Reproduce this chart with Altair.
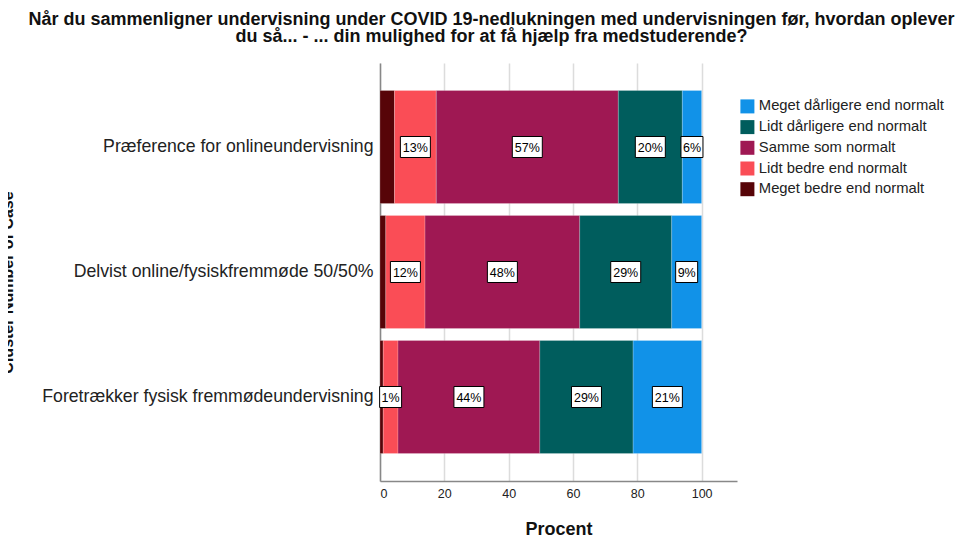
import altair as alt
import pandas as pd

categories = [
    "Præference for onlineundervisning",
    "Delvist online/fysiskfremmøde 50/50%",
    "Foretrækker fysisk fremmødeundervisning",
]
responses = [
    "Meget bedre end normalt",
    "Lidt bedre end normalt",
    "Samme som normalt",
    "Lidt dårligere end normalt",
    "Meget dårligere end normalt",
]
legend_order = [
    "Meget dårligere end normalt",
    "Lidt dårligere end normalt",
    "Samme som normalt",
    "Lidt bedre end normalt",
    "Meget bedre end normalt",
]
colors = ["#1192e8", "#005d5d", "#9f1853", "#fa4d56", "#570408"]

values = [
    [4.5, 13.0, 56.6, 19.9, 6.0],
    [1.8, 12.2, 48.1, 28.6, 9.3],
    [1.0, 4.6, 44.1, 29.0, 21.3],
]
labels = [
    ["", "13%", "57%", "20%", "6%"],
    ["", "12%", "48%", "29%", "9%"],
    ["", "1%", "44%", "29%", "21%"],
]
x_ticks = [0, 20, 40, 60, 80, 100]

rows = []
for ci, cat in enumerate(categories):
    for ri, resp in enumerate(responses):
        rows.append({"cat": cat, "resp": resp, "ord": ri,
                     "value": values[ci][ri], "label": labels[ci][ri]})
df = pd.DataFrame(rows)

FONT = "Liberation Sans"
x_scale = alt.Scale(domain=[0, 111], nice=False, zero=True)
y_scale = alt.Scale(paddingInner=0.096, paddingOuter=0.22)

base = alt.Chart(df).transform_stack(
    stack="value", groupby=["cat"], as_=["x0", "x1"],
    sort=[alt.SortField("ord", order="ascending")],
).transform_calculate(mid="(datum.x0 + datum.x1) / 2", len="length(datum.label)")

y_enc = alt.Y("cat:N", sort=categories, scale=y_scale,
              axis=alt.Axis(title="Cluster Number of Case", titleFont=FONT,
                            titleFontSize=16, titleFontWeight="bold",
                            titleColor="#111", titleX=-365, titleY=219,
                            labelFont=FONT, labelFontSize=17.7, labelColor="#222",
                            labelPadding=7, ticks=False, domainColor="#888",
                            domainWidth=1.5, labelLimit=400))

bars = base.mark_bar(stroke="#ffffff", strokeWidth=0.4, strokeOpacity=0.5).encode(
    x=alt.X("x0:Q", scale=x_scale,
            axis=alt.Axis(title="Procent", values=x_ticks, titleFont=FONT,
                          titleFontSize=18, titleFontWeight="bold", titleColor="#111",
                          titlePadding=21, labelFont=FONT, labelFontSize=12.5,
                          labelColor="#222", labelPadding=6, ticks=False,
                          domainColor="#888", domainWidth=1.5,
                          grid=True, gridColor="#dcdcdc", gridWidth=1.5)),
    x2="x1:Q",
    y=y_enc,
    color=alt.Color("resp:N", scale=alt.Scale(domain=legend_order, range=colors),
                    legend=alt.Legend(title=None, orient="none", legendX=360,
                                      legendY=36, symbolType="square",
                                      symbolSize=196, symbolStrokeWidth=0,
                                      labelFont=FONT, labelFontSize=14.8,
                                      labelColor="#222", rowPadding=4.7,
                                      labelOffset=4, padding=0, labelLimit=300)),
)

path2 = "M-0.733,-0.7L0.733,-0.7L0.733,0.7L-0.733,0.7Z"
path3 = "M-1,-0.7L1,-0.7L1,0.7L-1,0.7Z"

boxes = base.transform_filter("datum.label != ''").mark_point(
    filled=True, fill="white", stroke="black", strokeWidth=1, opacity=1,
    size=900,
).encode(
    x=alt.X("mid:Q", scale=x_scale),
    y=alt.Y("cat:N", sort=categories, scale=y_scale),
    shape=alt.Shape("len:N", scale=alt.Scale(domain=[2, 3], range=[path2, path3]),
                    legend=None),
)

texts = base.transform_filter("datum.label != ''").mark_text(
    font=FONT, fontSize=12.5, color="black", baseline="middle", align="center", dy=1,
).encode(
    x=alt.X("mid:Q", scale=x_scale),
    y=alt.Y("cat:N", sort=categories, scale=y_scale),
    text="label:N",
)

chart = alt.layer(bars, boxes, texts).properties(
    width=357, height=418,
    autosize=alt.AutoSizeParams(type="none"),
    padding={"left": 372, "top": 55, "right": 222, "bottom": 58},
    title=alt.TitleParams(
        text=["Når du sammenligner undervisning under COVID 19-nedlukningen med undervisningen før, hvordan oplever",
              "du så... - ... din mulighed for at få hjælp fra medstuderende?"],
        font=FONT, fontSize=18, fontWeight="bold", color="#111",
        anchor="middle", dx=-67, offset=17, lineHeight=17,
    ),
).configure_view(stroke=None)

chart.save("out.html", embed_options={"renderer": "svg", "actions": False})
